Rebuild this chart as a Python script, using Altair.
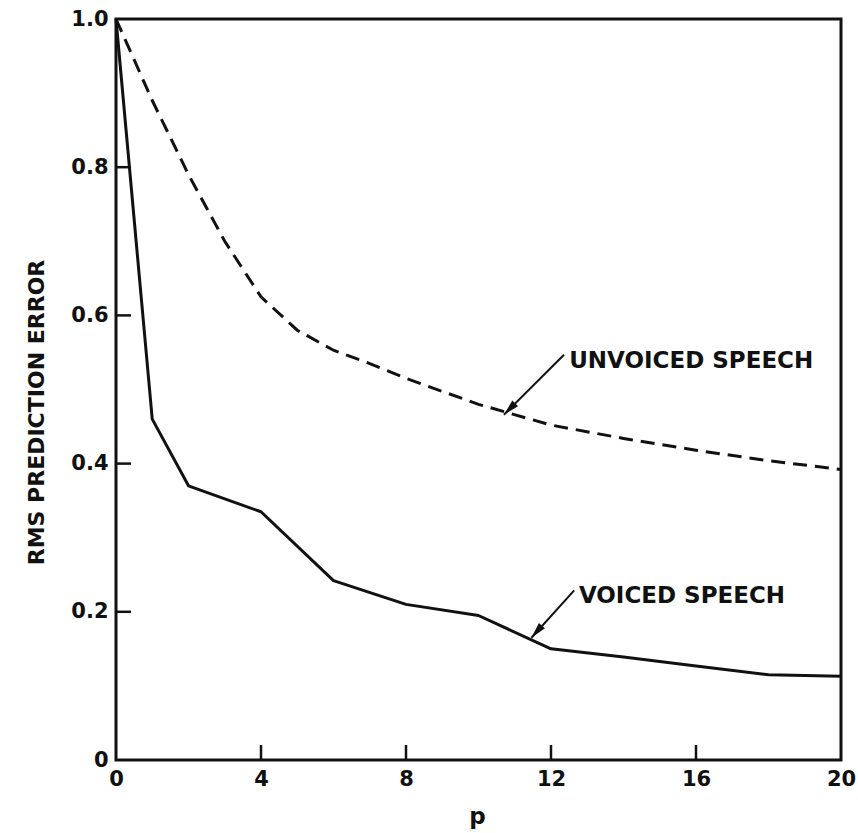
import altair as alt
import pandas as pd

# ---- data ----
voiced_p = [0, 1, 2, 4, 6, 8, 10, 12, 14, 16, 18, 20]
voiced_err = [1.0, 0.46, 0.37, 0.335, 0.242, 0.21, 0.195, 0.15, 0.139, 0.127, 0.115, 0.113]

unvoiced_p = [0, 1, 2, 3, 4, 5, 6, 7, 8, 10, 12, 14, 16, 18, 20]
unvoiced_err = [1.0, 0.89, 0.79, 0.70, 0.625, 0.58, 0.553, 0.535, 0.515, 0.48, 0.452, 0.434, 0.418, 0.404, 0.392]

x_ticks = [0, 4, 8, 12, 16, 20]
y_ticks = [0, 0.2, 0.4, 0.6, 0.8, 1.0]
x_inner_ticks = [4, 8, 12, 16]
y_inner_ticks = [0.2, 0.4, 0.6, 0.8]

label_text = ["UNVOICED SPEECH", "VOICED SPEECH"]
label_p = [12.5, 12.77]
label_v = [0.539, 0.221]
arrow_p1 = [12.36, 12.64]
arrow_v1 = [0.547, 0.229]
arrow_p2 = [10.7, 11.46]
arrow_v2 = [0.466, 0.165]
arrow_angle = [225, 221]

FONT = "DejaVu Sans"
INK = "#111111"

voiced_df = pd.DataFrame({"p": voiced_p, "err": voiced_err})
unvoiced_df = pd.DataFrame({"p": unvoiced_p, "err": unvoiced_err})
ann_df = pd.DataFrame({
    "text": label_text, "tp": label_p, "tv": label_v,
    "p1": arrow_p1, "v1": arrow_v1, "p2": arrow_p2, "v2": arrow_v2,
    "angle": arrow_angle,
})
xt_df = pd.DataFrame({"p": x_inner_ticks})
yt_df = pd.DataFrame({"err": y_inner_ticks})

W, H = 725, 741

xscale = alt.Scale(domain=[0, 20], nice=False, zero=False)
yscale = alt.Scale(domain=[0, 1], nice=False, zero=False)

xaxis = alt.Axis(
    values=x_ticks, format="d", title="p", domain=False, ticks=False, grid=False,
    labelFont=FONT, labelFontWeight="bold", labelFontSize=21, labelColor=INK,
    labelPadding=8, labelFlush=False,
    titleFont=FONT, titleFontWeight="bold", titleFontSize=23, titleColor=INK,
    titleX=361, titleY=63, titleBaseline="alphabetic", titleAlign="center",
)
yaxis = alt.Axis(
    values=y_ticks, title="RMS PREDICTION ERROR", domain=False, ticks=False, grid=False,
    labelExpr="datum.value == 0 ? '0' : format(datum.value, '.1f')",
    labelFont=FONT, labelFontWeight="bold", labelFontSize=21, labelColor=INK,
    labelPadding=8, labelFlush=False,
    titleFont=FONT, titleFontWeight="bold", titleFontSize=22, titleColor=INK,
    titleX=-80, titleY=393, titleAngle=270, titleAlign="center", titleBaseline="middle",
)

voiced = alt.Chart(voiced_df).mark_line(color=INK, strokeWidth=3, strokeJoin="round").encode(
    x=alt.X("p:Q", scale=xscale, axis=xaxis),
    y=alt.Y("err:Q", scale=yscale, axis=yaxis),
)
unvoiced = alt.Chart(unvoiced_df).mark_line(
    color=INK, strokeWidth=3, strokeDash=[14, 8]
).encode(
    x=alt.X("p:Q", scale=xscale),
    y=alt.Y("err:Q", scale=yscale),
)

xticks = alt.Chart(xt_df).mark_rule(color=INK, strokeWidth=2.5).encode(
    x=alt.X("p:Q", scale=xscale),
    y=alt.value(H),
    y2=alt.value(H - 15),
)
yticks = alt.Chart(yt_df).mark_rule(color=INK, strokeWidth=2.5).encode(
    y=alt.Y("err:Q", scale=yscale),
    x=alt.value(0),
    x2=alt.value(15),
)

arrows = alt.Chart(ann_df).mark_rule(color=INK, strokeWidth=2).encode(
    x=alt.X("p1:Q", scale=xscale), y=alt.Y("v1:Q", scale=yscale),
    x2="p2:Q", y2="v2:Q",
)
heads = alt.Chart(ann_df).mark_point(
    shape="M0,0L0.5,2L-0.5,2Z", filled=True, color=INK, opacity=1, size=256, strokeWidth=0
).encode(
    x=alt.X("p2:Q", scale=xscale), y=alt.Y("v2:Q", scale=yscale),
    angle=alt.Angle("angle:Q", scale=None),
)
labels = alt.Chart(ann_df).mark_text(
    font=FONT, fontWeight="bold", fontSize=23, color=INK, align="left", baseline="middle"
).encode(
    x=alt.X("tp:Q", scale=xscale), y=alt.Y("tv:Q", scale=yscale), text="text:N",
)

chart = alt.layer(unvoiced, voiced, xticks, yticks, arrows, heads, labels).properties(
    width=W, height=H,
    autosize=alt.AutoSizeParams(type="none"),
    padding={"left": 116, "top": 19, "right": 17, "bottom": 73},
    background="white",
).configure_view(stroke=INK, strokeWidth=3)

chart.save("out.html", embed_options={"renderer": "svg", "actions": False})
